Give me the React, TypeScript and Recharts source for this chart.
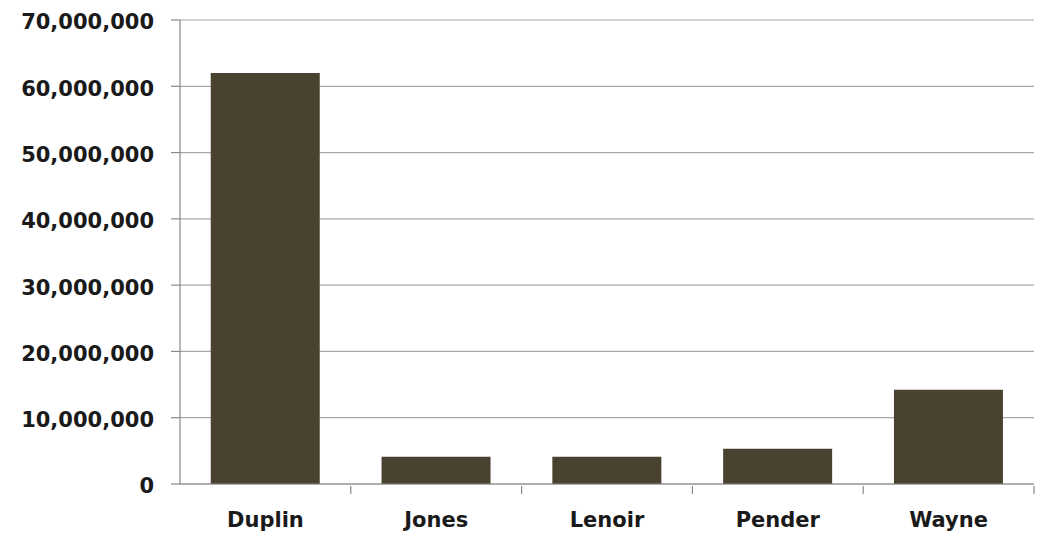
import React from "react";
import { BarChart, Bar, XAxis, YAxis, CartesianGrid } from "recharts";

const counties = ["Duplin", "Jones", "Lenoir", "Pender", "Wayne"];
const values = [62000000, 4100000, 4100000, 5300000, 14200000];
const yTicks = [0, 10000000, 20000000, 30000000, 40000000, 50000000, 60000000, 70000000];

const BAR_COLOR = "#4a4230";
const TEXT_COLOR = "#1a1a1a";
const FONT = "'DejaVu Sans', sans-serif";

function formatNumber(v: number) {
  return v.toLocaleString("en-US");
}

// category ticks sit between the bars, like Excel does
function CategoryTick(props: any) {
  var x = props.x;
  var y = props.y;
  var half = 854 / counties.length / 2;
  return (
    <g>
      <line x1={x + half} y1={y - 6} x2={x + half} y2={y + 2} stroke="#888" strokeWidth={1.2} />
      <text
        x={x}
        y={y + 35}
        textAnchor="middle"
        fill={TEXT_COLOR}
        fontFamily={FONT}
        fontWeight="bold"
        fontSize={21}
      >
        {props.payload.value}
      </text>
    </g>
  );
}

function ValueTick(props: any) {
  return (
    <text
      x={props.x}
      y={props.y + 2}
      dy="0.355em"
      textAnchor="end"
      fill={TEXT_COLOR}
      fontFamily={FONT}
      fontWeight="bold"
      fontSize={21}
    >
      {formatNumber(props.payload.value)}
    </text>
  );
}

export default function App() {
  var data: { name: string; value: number }[] = [];
  for (var i = 0; i < counties.length; i++) {
    data.push({ name: counties[i], value: values[i] });
  }

  return (
    <div style={{ position: "absolute", left: 0, top: 0, width: 1051, height: 539, background: "#fff" }}>
      <BarChart
        width={1051}
        height={539}
        data={data}
        margin={{ top: 20, right: 17, bottom: 0, left: 0 }}
        barCategoryGap="18%"
      >
        <CartesianGrid vertical={false} stroke="#a6a6a6" strokeWidth={1.2} />
        <XAxis
          dataKey="name"
          height={55}
          tickLine={false}
          axisLine={{ stroke: "#888", strokeWidth: 1.2 }}
          tick={<CategoryTick />}
          interval={0}
        />
        <YAxis
          width={180}
          domain={[0, 70000000]}
          ticks={yTicks}
          tickSize={9}
          tickMargin={17}
          tickLine={{ stroke: "#888", strokeWidth: 1.2 }}
          axisLine={{ stroke: "#888", strokeWidth: 1.2 }}
          tick={<ValueTick />}
        />
        <Bar dataKey="value" fill={BAR_COLOR} isAnimationActive={false} />
      </BarChart>
    </div>
  );
}
